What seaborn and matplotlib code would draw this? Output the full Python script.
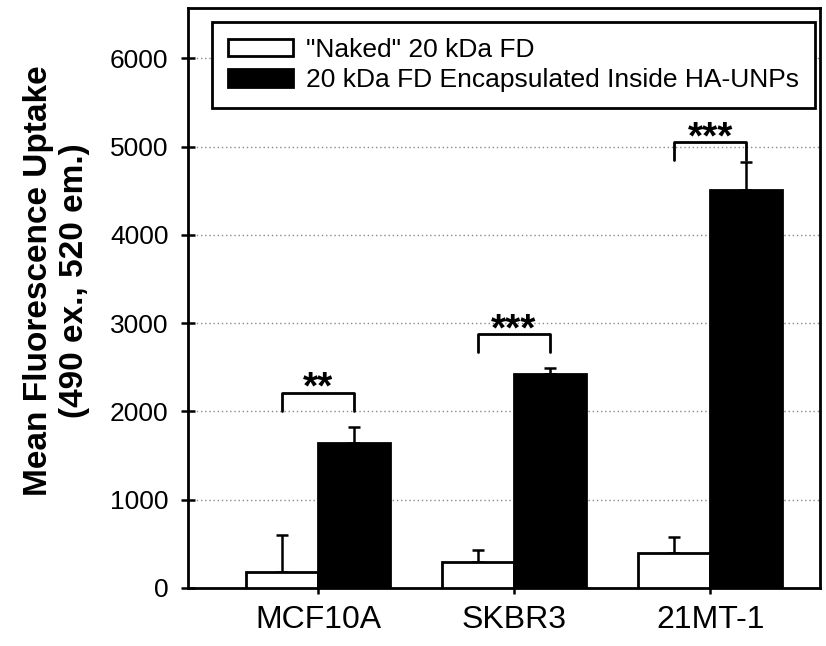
import numpy as np
import pandas as pd
import matplotlib
matplotlib.use('Agg')
import matplotlib.pyplot as plt
import seaborn as sns

# veri: hücre hatları ve iki grup
cells = ['MCF10A', 'SKBR3', '21MT-1']
groups = ['"Naked" 20 kDa FD', '20 kDa FD Encapsulated Inside HA-UNPs']
naked_mean = [180, 295, 395]
naked_err = [420, 135, 185]
encap_mean = [1640, 2425, 4510]
encap_err = [180, 65, 310]
stars = ['**', '***', '***']
bracket_top = [2210, 2875, 5050]
bracket_leg = [2000, 2670, 4850]

df = pd.DataFrame({
    'cell': cells * 2,
    'group': [groups[0]] * 3 + [groups[1]] * 3,
    'value': naked_mean + encap_mean,
})

sns.set_style('white', {'text.color': 'black', 'axes.labelcolor': 'black',
                        'xtick.color': 'black', 'ytick.color': 'black'})
plt.rcParams['font.family'] = ['Liberation Sans', 'DejaVu Sans']

fig = plt.figure(figsize=(8.26, 6.46), dpi=100)
ax = fig.add_axes([0.2276, 0.0898, 0.7651, 0.8978])

sns.barplot(data=df, x='cell', y='value', hue='group', hue_order=groups,
            palette=['white', 'black'], edgecolor='black', linewidth=2,
            width=0.735, errorbar=None, ax=ax, zorder=3)

# hata çubukları (sadece üst)
errs = [naked_err, encap_err]
means = [naked_mean, encap_mean]
bar_conts = list(ax.containers)
centers = {}
for gi, cont in enumerate(bar_conts):
    xs = [p.get_x() + p.get_width() / 2 for p in cont]
    centers[gi] = xs
    ax.errorbar(xs, means[gi], yerr=[np.zeros(3), errs[gi]], fmt='none',
                ecolor='black', elinewidth=1.8, capsize=4, capthick=1.8, zorder=2)

# anlamlılık parantezleri
for i in range(3):
    x1, x2 = centers[0][i], centers[1][i]
    ax.plot([x1, x1, x2, x2], [bracket_leg[i], bracket_top[i], bracket_top[i], bracket_leg[i]],
            color='black', lw=2, zorder=4)
    ax.annotate(stars[i], xy=((x1 + x2) / 2, bracket_top[i]), xytext=(0, -6),
                textcoords='offset pixels', ha='center', va='baseline',
                fontsize=28, fontweight='bold', color='black')

ax.set_xlim(-0.663, 2.56)
ax.set_ylim(0, 6570)
ax.set_yticks(range(0, 7000, 1000))
ax.yaxis.grid(True, linestyle=(0, (1, 2)), color='#888888', lw=1)
ax.set_axisbelow(True)
ax.set_xlabel('')
ax.set_ylabel('Mean Fluorescence Uptake\n(490 ex., 520 em.)', fontsize=24,
              fontweight='bold', color='black')
ax.yaxis.set_label_coords(-0.155, 0.53)
ax.tick_params(axis='y', direction='inout', length=10, width=1.8, labelsize=19, left=True,
               pad=9, colors='black')
ax.tick_params(axis='x', direction='out', length=4, width=1.8, labelsize=23, bottom=True,
               pad=8, colors='black')
for s in ax.spines.values():
    s.set_linewidth(2)
    s.set_color('black')

leg = ax.legend(loc='upper right', bbox_to_anchor=(0.992, 0.976), borderaxespad=0,
                fontsize=19, frameon=True, fancybox=False, edgecolor='black', framealpha=1,
                handlelength=2.46, handleheight=0.65, borderpad=0.6, labelspacing=0.25,
                handletextpad=0.5)
leg.get_frame().set_linewidth(2)
for t in leg.get_texts():
    t.set_color('black')

fig.savefig('out.png', dpi=100)
